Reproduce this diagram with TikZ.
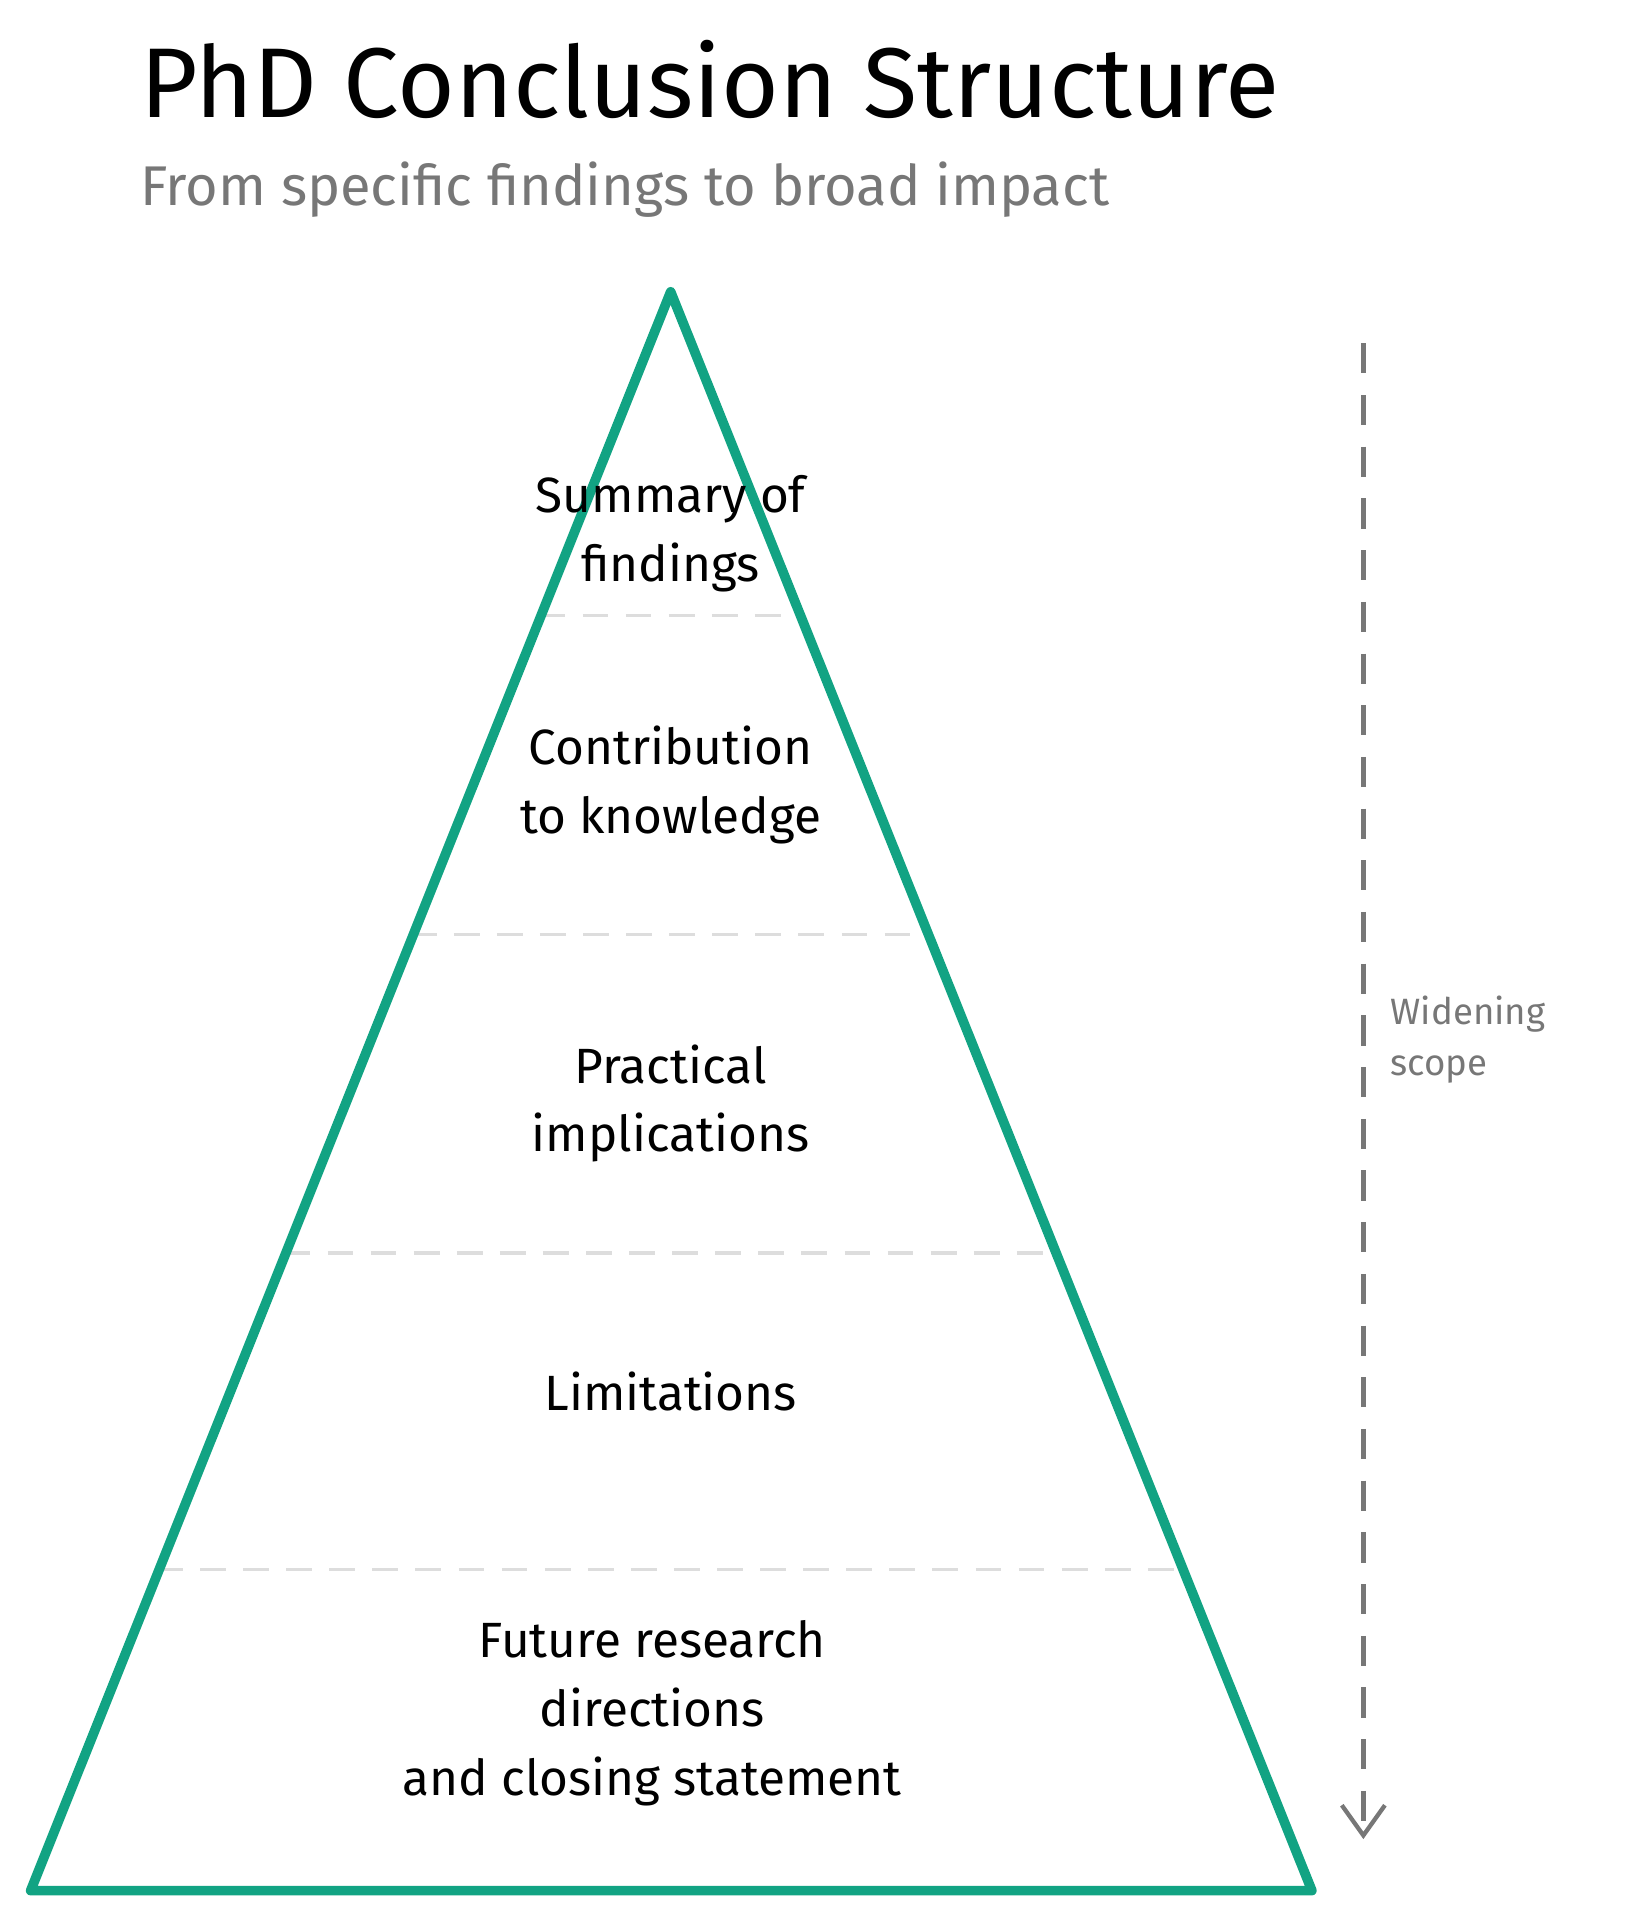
\documentclass[tikz,border=0pt]{standalone}
\usepackage{fontspec}
\setmainfont{Fira Sans}
\usetikzlibrary{arrows.meta}
\definecolor{pyrgreen}{HTML}{12A383}
\definecolor{sepgray}{HTML}{DDDDDD}
\definecolor{notegray}{HTML}{777777}
\tikzstyle{level} = [align=center, font=\fontsize{23}{32}\selectfont, text=black]
\tikzstyle{separator} = [draw=sepgray, line width=1.5pt, dash pattern=on 12pt off 8pt]
\tikzstyle{note} = [align=left, anchor=west, font=\fontsize{17}{24}\selectfont, text=notegray]
\begin{document}
\begin{tikzpicture}[x=0.02cm, y=-0.02cm]
   \useasboundingbox (0,0) rectangle (1330,1566);
   % title
   \node[anchor=west, font=\fontsize{46}{54}\selectfont] (title) at (108,65) {PhD Conclusion Structure};
   \node[anchor=west, font=\fontsize{26}{32}\selectfont, text=notegray] (subtitle) at (108,155) {From specific findings to broad impact};

   % pyramid
   \coordinate (apex) at (547,238);
   \coordinate (bl) at (25,1542);
   \coordinate (br) at (1070,1542);
   \draw[separator] (440,502) -- (652,502);
   \draw[separator] (335,762) -- (757,762);
   \draw[separator] (232,1022) -- (860,1022);
   \draw[separator] (128,1280) -- (964,1280);
   \draw[pyrgreen, line width=4.5pt, line join=round, line cap=round] (apex) -- (br) -- (bl) -- cycle;

   % levels
   \node[level] (summary)  at (547,435)  {Summary of\\findings};
   \node[level] (contrib)  at (547,640)  {Contribution\\to knowledge};
   \node[level] (practical) at (547,900) {Practical\\implications};
   \node[level] (limits)   at (547,1135) {Limitations};
   \node[level] (future)   at (532,1397) {Future research\\directions\\and closing statement};

   % scope arrow
   \coordinate (scopetop) at (1112,280);
   \coordinate (scopebot) at (1112,1500);
   \draw[notegray, line width=2pt, dash pattern=on 14pt off 10pt, -{Straight Barb[length=14pt, width=20pt, line width=2pt]}] (scopetop) -- (scopebot);
   \node[note] (scope) at (1128,848) {Widening\\scope};
\end{tikzpicture}
\end{document}
